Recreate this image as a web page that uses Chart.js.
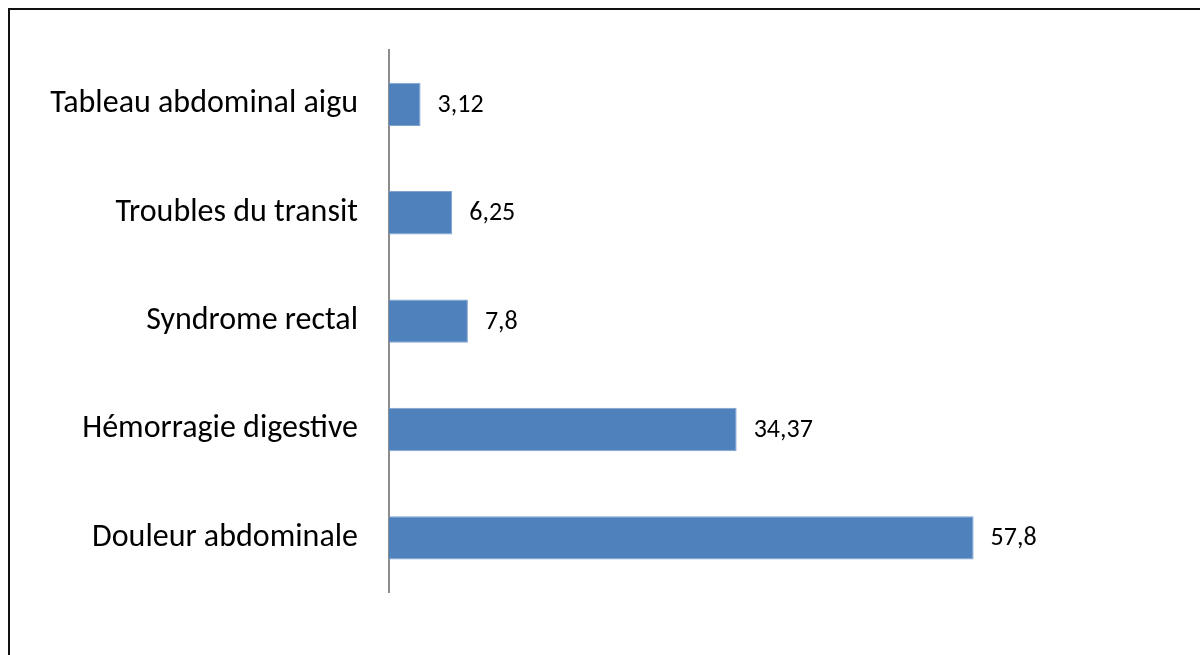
<!DOCTYPE html>
<html>
<head>
<meta charset="utf-8">
<script src="https://cdn.jsdelivr.net/npm/chart.js@4/dist/chart.umd.min.js"></script>
<style>
  html, body { margin: 0; padding: 0; background: #fff; }
  #wrap { position: relative; width: 1200px; height: 655px; }
  #frame {
    position: absolute; left: 8px; top: 8px; width: 1300px; height: 700px;
    border: 2px solid #111; pointer-events: none;
  }
</style>
</head>
<body>
<div id="wrap">
  <canvas id="motifChart" width="1200" height="655"></canvas>
  <div id="frame"></div>
</div>
<script>
// motifs de consultation (%)
const categories = [
  "Tableau abdominal aigu",
  "Troubles du transit",
  "Syndrome rectal",
  "Hémorragie digestive",
  "Douleur abdominale"
];
const percentages = [3.12, 6.25, 7.8, 34.37, 57.8];
const valueLabels = ["3,12", "6,25", "7,8", "34,37", "57,8"];

const labelFont = 'Calibri, Carlito, "Open Sans", sans-serif';

// write the value to the right of each bar
const valueLabelPlugin = {
  id: "valueLabels",
  afterDatasetsDraw(chart) {
    const ctx = chart.ctx;
    const meta = chart.getDatasetMeta(0);
    ctx.save();
    ctx.font = "26px " + labelFont;
    ctx.fillStyle = "#000";
    ctx.textAlign = "left";
    ctx.textBaseline = "middle";
    meta.data.forEach(function (bar, i) {
      ctx.fillText(valueLabels[i], bar.x + 17, bar.y + 1);
    });
    ctx.restore();
  }
};

const ctx = document.getElementById("motifChart").getContext("2d");
const myChart = new Chart(ctx, {
  type: "bar",
  data: {
    labels: categories,
    datasets: [{
      data: percentages,
      backgroundColor: "#4f81bd",
      borderColor: "#7fa2d0",
      borderWidth: 1,
      categoryPercentage: 1,
      barPercentage: 0.4
    }]
  },
  options: {
    indexAxis: "y",
    responsive: false,
    animation: false,
    layout: { padding: { top: 50, bottom: 63, left: 0, right: 103 } },
    plugins: {
      legend: { display: false },
      tooltip: { enabled: false }
    },
    scales: {
      x: {
        display: false,
        min: 0,
        max: 70
      },
      y: {
        afterFit(scale) { scale.width = 389; },
        grid: { display: false, drawTicks: false },
        border: { display: true, color: "#8c8c8c", width: 2 },
        ticks: {
          padding: 31,
          color: "#000",
          font: { family: labelFont, size: 32 }
        }
      }
    }
  },
  plugins: [valueLabelPlugin]
});
</script>
</body>
</html>
